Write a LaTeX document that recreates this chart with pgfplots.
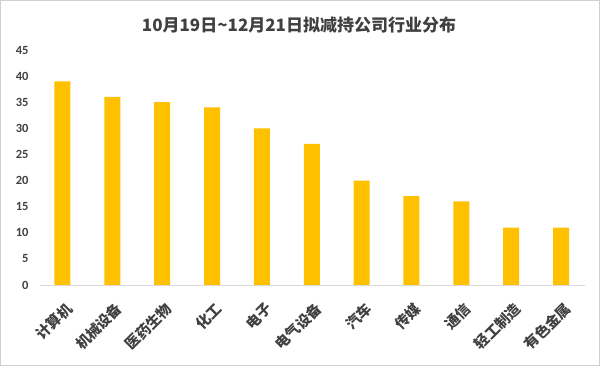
\documentclass[border=0pt]{standalone}
\usepackage{fontspec}
\usepackage{pgfplots}
\pgfplotsset{compat=1.18}
\setmainfont{Carlito}
\newfontfamily\cjk{Noto Sans CJK SC}
\definecolor{barcol}{HTML}{FFC000}
\definecolor{txtgray}{HTML}{404040}
\definecolor{framegray}{HTML}{D0D0D0}
\definecolor{linegray}{HTML}{D9D9D9}
\begin{document}
\begin{tikzpicture}
\path[use as bounding box] (0pt,0pt) rectangle (600pt,366pt);
\draw[color=framegray, line width=1pt] (0.5pt,0.5pt) rectangle (599.5pt,365.5pt);
\node[font=\cjk\bfseries\fontsize{17}{19}\selectfont, text=txtgray] at (299pt,341pt) {10月19日\textasciitilde 12月21日拟减持公司行业分布};
\begin{axis}[
  at={(40pt,81pt)}, anchor=south west,
  scale only axis, width=545pt, height=235pt,
  xmin=-0.45, xmax=10.48, ymin=0, ymax=45,
  ytick={0,5,...,45}, xtick={0,...,10},
  xticklabels={计算机,机械设备,医药生物,化工,电子,电气设备,汽车,传媒,通信,轻工制造,有色金属},
  axis line style={draw=none},
  major tick length=0pt,
  /pgf/number format/assume math mode=true,
  yticklabel style={font=\bfseries\fontsize{12.5}{14}\selectfont, text=txtgray, anchor=east, xshift=-8pt},
  xticklabel style={xshift=2pt, yshift=-11pt, rotate=45, anchor=north east, font=\cjk\bfseries\fontsize{14.5}{16}\selectfont, text=txtgray},
  ybar, bar width=16pt,
  clip=false,
]
\addplot[fill=barcol, draw=none] coordinates {(0,39) (1,36) (2,35) (3,34) (4,30) (5,27) (6,20) (7,17) (8,16) (9,11) (10,11)};
\draw[linegray, line width=0.8pt] (rel axis cs:0,0) -- (rel axis cs:1,0);
\end{axis}
\end{tikzpicture}
\end{document}
